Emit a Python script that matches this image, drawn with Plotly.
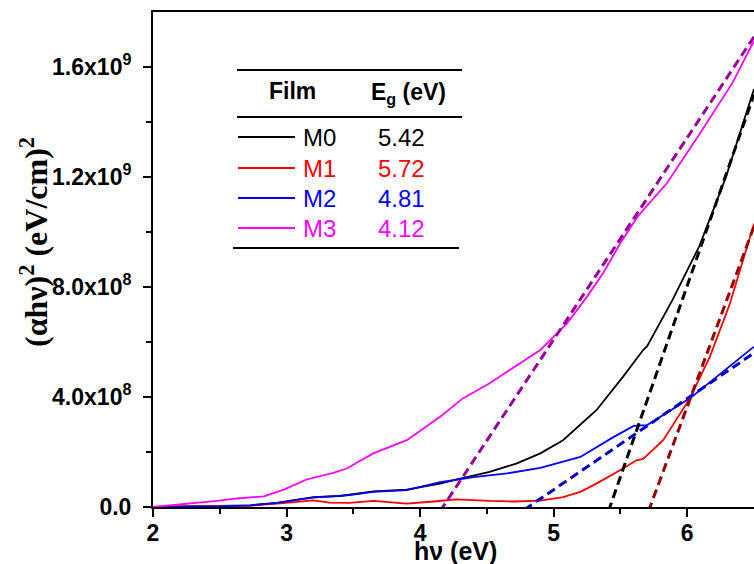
import plotly.graph_objects as go

# ---------------- data ----------------
m0_x = [2.0, 2.5, 2.73, 2.93, 3.05, 3.2, 3.4, 3.65, 3.9, 4.15, 4.30, 4.52, 4.72, 4.90,
        5.07, 5.32, 5.52, 5.67, 5.70, 5.89, 6.09, 6.29, 6.50]
m0_y = [0, 3e6, 6e6, 1.5e7, 2.5e7, 3.6e7, 4.0e7, 5.7e7, 6.3e7, 8.5e7, 1.03e8, 1.28e8,
        1.58e8, 1.95e8, 2.43e8, 3.52e8, 4.74e8, 5.71e8, 5.85e8, 7.53e8, 9.48e8, 1.2e9, 1.52e9]

m1_x = [2.0, 2.5, 2.73, 2.93, 3.05, 3.2, 3.32, 3.47, 3.65, 3.9, 4.1, 4.27, 4.52, 4.7,
        4.9, 5.07, 5.2, 5.32, 5.52, 5.62, 5.67, 5.82, 6.02, 6.17, 6.32, 6.5]
m1_y = [0, 2e6, 5e6, 1.2e7, 1.8e7, 2.4e7, 1.6e7, 1.5e7, 2.2e7, 1.2e7, 2.0e7, 2.8e7,
        2.2e7, 2.0e7, 2.3e7, 3.6e7, 5.5e7, 8.5e7, 1.4e8, 1.7e8, 1.75e8, 2.43e8, 3.95e8,
        5.47e8, 7.4e8, 1.03e9]

m2_x = [2.0, 2.5, 2.73, 2.93, 3.05, 3.2, 3.47, 3.65, 3.9, 4.15, 4.40, 4.65, 4.90, 5.20,
        5.45, 5.60, 5.70, 6.02, 6.5]
m2_y = [0, 2e6, 6e6, 1.5e7, 2.4e7, 3.4e7, 4.3e7, 5.5e7, 6.1e7, 9.0e7, 1.09e8, 1.22e8,
        1.42e8, 1.82e8, 2.55e8, 2.95e8, 2.98e8, 3.95e8, 5.83e8]

m3_x = [2.0, 2.23, 2.48, 2.63, 2.83, 2.98, 3.15, 3.35, 3.45, 3.65, 3.90, 4.15, 4.32,
        4.52, 4.90, 5.10, 5.25, 5.37, 5.50, 5.63, 5.85, 6.09, 6.34, 6.50]
m3_y = [0, 1e7, 2.2e7, 3.1e7, 3.9e7, 6.3e7, 1.0e8, 1.24e8, 1.4e8, 1.95e8, 2.43e8,
        3.28e8, 3.95e8, 4.5e8, 5.71e8, 6.68e8, 7.65e8, 8.5e8, 9.6e8, 1.057e9, 1.179e9,
        1.355e9, 1.543e9, 1.695e9]

# linear fits (end points)
fit0_x, fit0_y = [5.41, 6.5], [-1.5e7, 1.50e9]
fit1_x, fit1_y = [5.71, 6.5], [-1.5e7, 1.02e9]
fit2_x, fit2_y = [4.78, 6.5], [-1.0e7, 5.6e8]
fit3_x, fit3_y = [4.15, 6.5], [-1.5e7, 1.71e9]

films = ["M0", "M1", "M2", "M3"]
band_gaps = ["5.42", "5.72", "4.81", "4.12"]

x_ticks = [2, 3, 4, 5, 6]
x_minor = [2.5, 3.5, 4.5, 5.5]
y_ticks = [0, 4e8, 8e8, 1.2e9, 1.6e9]
y_tick_text = ["0.0", "4.0x10<sup>8</sup>", "8.0x10<sup>8</sup>",
               "1.2x10<sup>9</sup>", "1.6x10<sup>9</sup>"]
y_minor = [2e8, 6e8, 1.0e9, 1.4e9]

# ---------------- styles ----------------
colors = ["#000000", "#FF0000", "#0000FF", "#FF00FF"]
fit_colors = ["#000000", "#990000", "#0000CC", "#990099"]

fig = go.Figure()
for xs, ys, c, n in zip([m0_x, m1_x, m2_x, m3_x], [m0_y, m1_y, m2_y, m3_y], colors, films):
    fig.add_trace(go.Scatter(x=xs, y=ys, mode="lines", name=n,
                             line=dict(color=c, width=1.8), showlegend=False))
for xs, ys, c in zip([fit0_x, fit1_x, fit2_x, fit3_x], [fit0_y, fit1_y, fit2_y, fit3_y], fit_colors):
    fig.add_trace(go.Scatter(x=xs, y=ys, mode="lines",
                             line=dict(color=c, width=3, dash="9px,5px"), showlegend=False))

L, R, T, B = 153, 754, 12, 507          # plot area on screen
W, H = 754, 564                         # figure size


def px(xp):
    return (xp - L) / (R - L)


def py(yp):
    return (B - yp) / (B - T)


tick_font = dict(family="Liberation Sans, Arial", size=23, color="black", weight="bold")

fig.update_layout(
    width=W, height=H, autosize=False,
    margin=dict(l=L, r=W - R, t=T, b=H - B, pad=0),
    paper_bgcolor="white", plot_bgcolor="white",
    xaxis=dict(range=[2, 6.5], tickvals=x_ticks, ticks="outside", ticklen=8, tickwidth=2,
               tickcolor="black", showline=True, linewidth=2, linecolor="black",
               mirror=True, showgrid=False, zeroline=False, tickfont=tick_font,
               ticklabelstandoff=-4,
               minor=dict(tickvals=x_minor, ticks="outside", ticklen=5, tickwidth=2,
                          tickcolor="black", showgrid=False)),
    yaxis=dict(range=[0, 1.8e9], tickvals=y_ticks, ticktext=y_tick_text, ticks="outside",
               ticklen=8, tickwidth=2, tickcolor="black", showline=True, linewidth=2,
               linecolor="black", mirror=False, showgrid=False, zeroline=False,
               tickfont=tick_font, ticklabelstandoff=7,
               minor=dict(tickvals=y_minor, ticks="outside", ticklen=5, tickwidth=2,
                          tickcolor="black", showgrid=False)),
)

annotations = [
    dict(text="<b>hν (eV)</b>", x=px(455), y=py(551), xref="paper", yref="paper",
         showarrow=False, xanchor="center", yanchor="middle",
         font=dict(family="Liberation Sans, Arial", size=25, color="black")),
    dict(text="<b>(αhν)<sup>2</sup> (eV/cm)<sup>2</sup></b>", x=px(34), y=py(242),
         xref="paper", yref="paper", showarrow=False, textangle=-90,
         xanchor="center", yanchor="middle",
         font=dict(family="Liberation Serif, Times New Roman", size=32, color="black")),
    dict(text="<b>Film</b>", x=px(292), y=py(91), xref="paper", yref="paper",
         showarrow=False, xanchor="center", yanchor="middle",
         font=dict(family="Liberation Sans, Arial", size=23, color="black")),
    dict(text="<b>E<sub>g</sub> (eV)</b>", x=px(408), y=py(93), xref="paper", yref="paper",
         showarrow=False, xanchor="center", yanchor="middle",
         font=dict(family="Liberation Sans, Arial", size=23, color="black")),
]
shapes = [
    dict(type="line", xref="paper", yref="paper", x0=px(237), x1=px(462), y0=py(70), y1=py(70),
         line=dict(color="black", width=2)),
    dict(type="line", xref="paper", yref="paper", x0=px(237), x1=px(462), y0=py(117), y1=py(117),
         line=dict(color="black", width=2)),
    dict(type="line", xref="paper", yref="paper", x0=px(233), x1=px(459), y0=py(248), y1=py(248),
         line=dict(color="black", width=2)),
]
row_y = [137, 168, 198, 228]
for name, eg, c, ry in zip(films, band_gaps, colors, row_y):
    shapes.append(dict(type="line", xref="paper", yref="paper", x0=px(238), x1=px(295),
                       y0=py(ry), y1=py(ry), line=dict(color=c, width=2)))
    annotations.append(dict(text=name, x=px(301), y=py(ry), xref="paper", yref="paper",
                            showarrow=False, xanchor="left", yanchor="middle",
                            font=dict(family="Liberation Sans, Arial", size=24, color=c)))
    annotations.append(dict(text=eg, x=px(401), y=py(ry), xref="paper", yref="paper",
                            showarrow=False, xanchor="center", yanchor="middle",
                            font=dict(family="Liberation Sans, Arial", size=24, color=c)))

fig.update_layout(annotations=annotations, shapes=shapes)
fig.write_html("out.html",
               config={"displayModeBar": False},
               post_script="document.body.style.margin='0';"
                           "document.body.style.overflow='hidden';")
